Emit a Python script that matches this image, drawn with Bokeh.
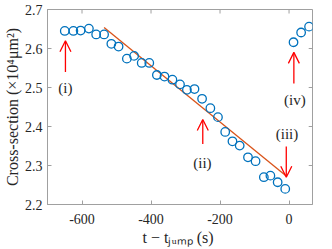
from bokeh.plotting import figure
from bokeh.models import Range1d, Arrow, OpenHead, ColumnDataSource, FixedTicker
from bokeh.embed import file_html
from bokeh.resources import INLINE
from bokeh.core.properties import value

# data (t - t_jump in s, cross-section in 1e4 um^2)
t = [-650, -625, -604, -580, -559, -536, -515, -494, -470, -449, -427, -405, -383,
     -361, -338, -316, -296, -274, -252, -228, -206, -185, -164, -143, -119, -97,
     -73, -54, -33, -11, 13, 35, 58]
cs = [2.645, 2.645, 2.646, 2.651, 2.636, 2.636, 2.612, 2.605, 2.574, 2.581, 2.563, 2.563, 2.532,
      2.528, 2.520, 2.508, 2.494, 2.496, 2.471, 2.447, 2.424, 2.386, 2.362, 2.351, 2.321, 2.311,
      2.270, 2.274, 2.257, 2.240, 2.616, 2.641, 2.656]
fit_t = [-536, -9]
fit_cs = [2.654, 2.274]

ann_labels = ["(i)", "(ii)", "(iii)", "(iv)"]
ann_x = [-648, -251, -6, 17]
ann_y = [2.499, 2.306, 2.381, 2.469]
arrow_x = [-648, -250, -8, 14]
arrow_tail = [2.540, 2.355, 2.349, 2.510]
arrow_tip = [2.620, 2.418, 2.270, 2.590]

xticks = [-600, -400, -200, 0]
yticks = [2.2, 2.3, 2.4, 2.5, 2.6, 2.7]

FONT = "Liberation Serif"
AX = "#a0a0a0"
TXT = "#262626"
X0, X1, Y0, Y1 = -700, 68, 2.2, 2.7

p = figure(width=316, height=248, output_backend="svg", toolbar_location=None,
           x_range=Range1d(X0, X1), y_range=Range1d(Y0, Y1),
           min_border_left=40, min_border_top=9, min_border_right=4, min_border_bottom=44)
p.grid.visible = False
p.outline_line_color = AX
p.background_fill_color = "white"

for ax in (p.xaxis[0], p.yaxis[0]):
    ax.axis_line_color = AX
    ax.major_tick_line_color = AX
    ax.major_tick_in = 4
    ax.major_tick_out = 0
    ax.minor_tick_line_color = None
    ax.major_label_text_font = FONT
    ax.major_label_text_font_size = "14px"
    ax.major_label_text_color = TXT
    ax.axis_label_text_font = FONT
    ax.axis_label_text_font_size = "16px"
    ax.axis_label_text_font_style = "normal"
    ax.axis_label_text_color = TXT

p.xaxis[0].ticker = FixedTicker(ticks=xticks)
p.yaxis[0].ticker = FixedTicker(ticks=yticks)
p.xaxis[0].major_label_overrides = {v: str(v) for v in xticks}
p.xaxis[0].axis_label = "t − tⱼᵤₘₚ  (s)"
p.yaxis[0].axis_label = "Cross-section (×10⁴μm²)"
p.xaxis[0].axis_label_standoff = 2
p.yaxis[0].axis_label_standoff = 1
p.xaxis[0].major_label_standoff = 9
p.yaxis[0].major_label_standoff = 5

# inward ticks on the top and right edges of the box
tx = 11.0   # 4 px in x data units
ty = 0.0103  # 4 px in y data units
p.segment(x0=xticks, y0=[Y1] * len(xticks), x1=xticks, y1=[Y1 - ty] * len(xticks),
          line_color=AX, line_width=1)
p.segment(x0=[X1] * len(yticks), y0=yticks, x1=[X1 - tx] * len(yticks), y1=yticks,
          line_color=AX, line_width=1)

p.line(fit_t, fit_cs, line_color="#D95319", line_width=1.3)
p.scatter(t, cs, marker="circle", size=8.5, fill_color=None, line_color="#0072BD", line_width=1.3)

for x0, y0, y1 in zip(arrow_x, arrow_tail, arrow_tip):
    p.add_layout(Arrow(x_start=x0, y_start=y0, x_end=x0, y_end=y1,
                       line_color="red", line_width=1.3,
                       end=OpenHead(size=11, line_color="red", line_width=1.3)))

src = ColumnDataSource(dict(x=ann_x, y=ann_y, text=ann_labels))
p.text(x="x", y="y", text="text", source=src, text_font=value(FONT),
       text_font_size="15px", text_color=TXT, text_align="center", text_baseline="middle")

open("out.html", "w").write(file_html(p, INLINE))
